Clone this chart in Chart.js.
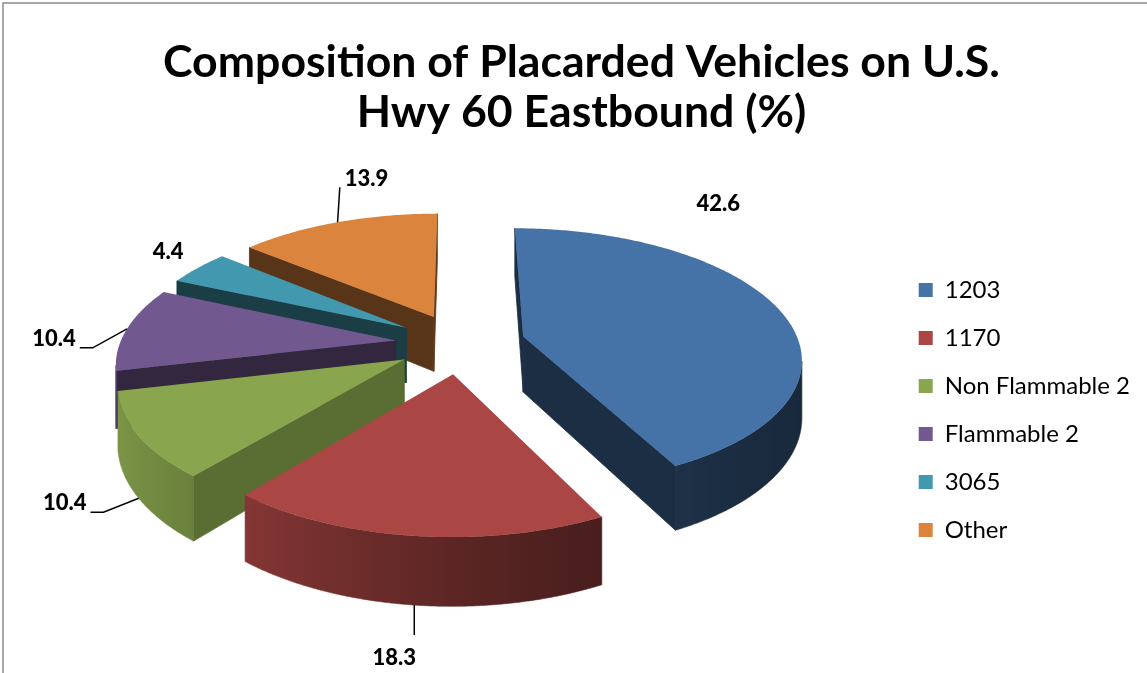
<!DOCTYPE html>
<html><head><meta charset="utf-8">
<script src="https://cdn.jsdelivr.net/npm/chart.js@4/dist/chart.umd.min.js"></script>
<style>html,body{margin:0;padding:0;background:#fff;overflow:hidden}#wrap{width:1147px;height:673px;position:relative}</style>
</head><body><div id="wrap"><canvas id="c" width="1147" height="673"></canvas></div>
<script>
// ---- data ----
const categories = ['1203', '1170', 'Non Flammable 2', 'Flammable 2', '3065', 'Other'];
const values = [42.6, 18.3, 10.4, 10.4, 4.4, 13.9];
const valueLabels = ['42.6', '18.3', '10.4', '10.4', '4.4', '13.9'];
const sliceColors = ['#4572A7', '#AA4643', '#89A54E', '#71588F', '#4198AF', '#DB843D'];
const titleLines = ['Composition of Placarded Vehicles on U.S.', 'Hwy 60 Eastbound (%)'];

// ---- style ----
const view3d = { tilt: 0.46, perspective: 0.155, depth: 56 };
const labelStyle = {
  font: '900 22px Lato',
  offsets: [[-60, -105], [-20, 53], [-74, 5], [-73, 10], [-30, -16], [29, -43]],
  leaders: [null, 'down', 'right', 'right', null, 'left']
};

function hexRgb(h) { const n = parseInt(h.slice(1), 16); return [(n >> 16) & 255, (n >> 8) & 255, n & 255]; }
function shade(h, b) { const c = hexRgb(h); return 'rgb(' + c.map(v => Math.round(Math.min(255, v * b))).join(',') + ')'; }

function geometry(chart, o) {
  const arcs = chart.getDatasetMeta(0).data;
  const R = arcs[0].outerRadius;
  const slices = arcs.map((arc, i) => {
    const off = arc.options.offset || 0;
    const mid = (arc.startAngle + arc.endAngle) / 2;
    return { i, start: arc.startAngle, end: arc.endAngle, mid, ox: off * Math.cos(mid), oy: off * Math.sin(mid), color: arc.options.backgroundColor };
  });
  const raw = (X, Y, z) => { const s = 1 / (1 - o.perspective * Y / R); return [X * s, (Y * o.tilt + z) * s]; };
  let minX = Infinity, maxX = -Infinity, minY = Infinity, maxY = -Infinity;
  const acc = p => { minX = Math.min(minX, p[0]); maxX = Math.max(maxX, p[0]); minY = Math.min(minY, p[1]); maxY = Math.max(maxY, p[1]); };
  slices.forEach(sl => {
    const n = Math.max(2, Math.ceil((sl.end - sl.start) / 0.01));
    for (let k = 0; k <= n; k++) {
      const a = sl.start + (sl.end - sl.start) * k / n;
      acc(raw(sl.ox + R * Math.cos(a), sl.oy + R * Math.sin(a), 0));
      acc(raw(sl.ox + R * Math.cos(a), sl.oy + R * Math.sin(a), o.depth));
    }
    acc(raw(sl.ox, sl.oy, 0)); acc(raw(sl.ox, sl.oy, o.depth));
  });
  const cx = arcs[0].x - (minX + maxX) / 2, cy = arcs[0].y - (minY + maxY) / 2;
  const proj = (X, Y, z) => { const r = raw(X, Y, z); return [cx + r[0], cy + r[1]]; };
  return { slices, R, E: R / o.perspective, D: o.depth, proj };
}

function poly(ctx, pts, col, stroke) {
  ctx.beginPath();
  ctx.moveTo(pts[0][0], pts[0][1]);
  for (let i = 1; i < pts.length; i++) ctx.lineTo(pts[i][0], pts[i][1]);
  ctx.closePath();
  ctx.fillStyle = col; ctx.fill();
  if (stroke) { ctx.strokeStyle = col; ctx.lineWidth = stroke; ctx.lineJoin = 'round'; ctx.stroke(); }
}

function curveBright(a) {
  const phi = a * 180 / Math.PI + 90;
  const t = (1 + Math.cos((phi - 260) * Math.PI / 180)) / 2;
  return 0.36 + 0.54 * t * t;
}
function wallBright(n) {
  const phi = n * 180 / Math.PI + 90;
  return 0.4 + 0.26 * Math.pow(Math.max(0, Math.cos((phi - 129) * Math.PI / 180)), 8);
}

const pie3d = {
  id: 'pie3d',
  beforeDraw(chart) {
    const ctx = chart.ctx;
    ctx.save();
    ctx.fillStyle = '#fff'; ctx.fillRect(0, 0, chart.width, chart.height);
    ctx.strokeStyle = '#8c8c8c'; ctx.lineWidth = 1.5;
    ctx.strokeRect(3, 3, chart.width + 20, chart.height + 20);
    ctx.restore();
  },
  beforeDatasetsDraw(chart, args, o) {
    const g = geometry(chart, o);
    const ctx = chart.ctx;
    ctx.save();
    const order = g.slices.slice().sort((a, b) => Math.sin(a.mid) - Math.sin(b.mid));
    for (const sl of order) {
      const { ox, oy } = sl, R = g.R, D = g.D;
      const C0 = g.proj(ox, oy, 0), C1 = g.proj(ox, oy, D);
      const edge = (a, z) => g.proj(ox + R * Math.cos(a), oy + R * Math.sin(a), z);
      const walls = [{ a: sl.start, n: sl.start - Math.PI / 2 }, { a: sl.end, n: sl.end + Math.PI / 2 }];
      for (const w of walls) {
        const nx = Math.cos(w.n), ny = Math.sin(w.n);
        if (nx * (0 - ox) + ny * (g.E - oy) <= 0) continue;
        poly(ctx, [C0, edge(w.a, 0), edge(w.a, D), C1], shade(sl.color, wallBright(w.n)), 0.8);
      }
      // visible part of the curved outer wall, filled with one smooth gradient
      const n = Math.max(2, Math.ceil((sl.end - sl.start) / 0.005));
      const vis = [];
      for (let k = 0; k <= n; k++) {
        const a = sl.start + (sl.end - sl.start) * k / n;
        const px = ox + R * Math.cos(a), py = oy + R * Math.sin(a);
        if (Math.cos(a) * (0 - px) + Math.sin(a) * (g.E - py) > 0) vis.push(a);
      }
      if (vis.length > 1) {
        const top = vis.map(a => edge(a, 0)), bot = vis.map(a => edge(a, D)).reverse();
        const xs = top.map(p => p[0]);
        const x0 = Math.min(...xs), x1 = Math.max(...xs);
        const grad = ctx.createLinearGradient(x0, 0, x1 + 0.001, 0);
        const step = Math.max(1, Math.floor(vis.length / 40));
        for (let k = 0; k < vis.length; k += step) {
          grad.addColorStop(Math.min(1, Math.max(0, (top[k][0] - x0) / (x1 - x0 + 0.001))), shade(sl.color, curveBright(vis[k])));
        }
        const kl = vis.length - 1;
        grad.addColorStop(Math.min(1, Math.max(0, (top[kl][0] - x0) / (x1 - x0 + 0.001))), shade(sl.color, curveBright(vis[kl])));
        poly(ctx, top.concat(bot), grad, 0.6);
      }
      const pts = [C0];
      const m = Math.max(2, Math.ceil((sl.end - sl.start) / 0.01));
      for (let k = 0; k <= m; k++) pts.push(edge(sl.start + (sl.end - sl.start) * k / m, 0));
      poly(ctx, pts, sl.color, 0);
    }
    ctx.restore();
    return false;
  },
  afterDraw(chart, args, o) {
    const g = geometry(chart, o);
    const ctx = chart.ctx;
    ctx.save();
    ctx.font = labelStyle.font; ctx.fillStyle = '#000'; ctx.strokeStyle = '#000'; ctx.lineWidth = 1.5;
    ctx.textAlign = 'center'; ctx.textBaseline = 'middle';
    g.slices.forEach((sl, i) => {
      const z = Math.sin(sl.mid) > 0 ? g.D : 0;
      const A = g.proj(sl.ox + g.R * Math.cos(sl.mid), sl.oy + g.R * Math.sin(sl.mid), z);
      const [dx, dy] = labelStyle.offsets[i];
      const lx = A[0] + dx, ly = A[1] + dy;
      const txt = valueLabels[i];
      const w = ctx.measureText(txt).width;
      ctx.fillText(txt, lx, ly);
      const L = labelStyle.leaders[i];
      ctx.beginPath();
      if (L === 'down') { ctx.moveTo(A[0], A[1]); ctx.lineTo(A[0], ly - 23); }
      else if (L === 'right') { const by = ly + 9; ctx.moveTo(lx + w / 2 + 4, by); ctx.lineTo(lx + w / 2 + 17, by); ctx.lineTo(A[0], A[1]); }
      else if (L === 'left') { ctx.moveTo(lx - w / 2 - 5, ly + 8); ctx.lineTo(A[0], A[1]); }
      ctx.stroke();
    });
    ctx.restore();
  }
};

function fitSize(text, weight, family, target) {
  const c = document.createElement('canvas').getContext('2d');
  c.font = weight + ' 100px ' + family;
  return Math.round(100 * target / c.measureText(text).width * 10) / 10;
}

function build() {
  const titleSize = fitSize(titleLines[0], 'bold', 'Lato', 837);
  new Chart(document.getElementById('c'), {
    type: 'pie',
    data: {
      labels: categories,
      datasets: [{ data: values, backgroundColor: sliceColors, borderWidth: 0, offset: 65, radius: 276 }]
    },
    options: {
      responsive: false, animation: false, devicePixelRatio: 1, events: [],
      layout: { padding: { left: 23, right: 7, top: 0, bottom: 0 } },
      plugins: {
        pie3d: view3d,
        tooltip: { enabled: false },
        title: {
          display: true, text: titleLines, color: '#000',
          font: { family: 'Lato', weight: 'bold', size: titleSize, lineHeight: '50px' },
          padding: { top: 38, bottom: 9 }
        },
        legend: {
          position: 'right', align: 'center', fullSize: false,
          labels: { boxWidth: 14, boxHeight: 14, padding: 24, color: '#000', font: { family: 'Lato', size: 24 } }
        }
      }
    },
    plugins: [pie3d]
  });
}
const ready = document.fonts && document.fonts.load ? Promise.all([document.fonts.load('bold 40px Lato'), document.fonts.load('900 22px Lato'), document.fonts.load('24px Lato')]) : Promise.resolve();
Promise.race([ready, new Promise(r => setTimeout(r, 500))]).then(build, build);
</script>
</body></html>
